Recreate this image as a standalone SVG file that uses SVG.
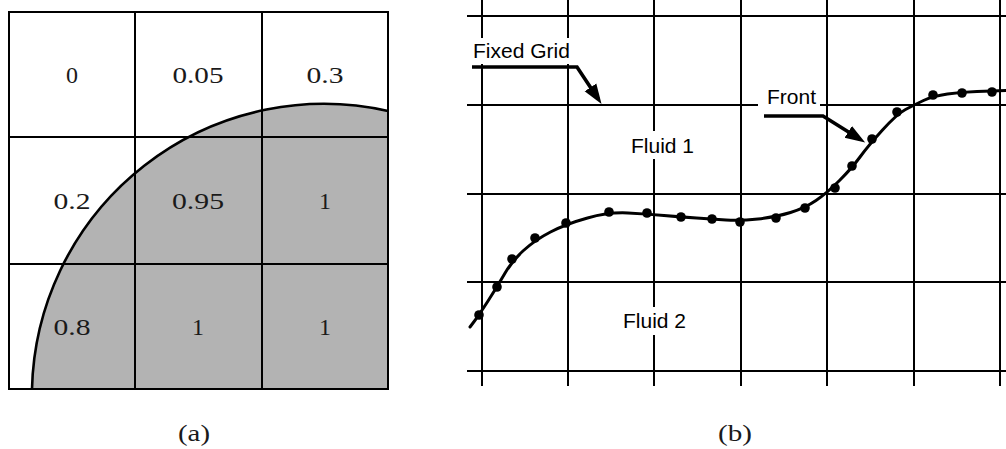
<svg xmlns="http://www.w3.org/2000/svg" width="1006" height="449" viewBox="0 0 1006 449">
<style>
.grid{stroke:#000;stroke-width:2;fill:none}
.cm{font-family:"Liberation Serif","DejaVu Serif",serif;font-size:24px;fill:#1a1a1a;text-anchor:middle}
.lbl{font-family:"Liberation Sans",Arial,sans-serif;font-size:21px;fill:#000}
.lead{stroke:#000;stroke-width:3.6;fill:none;stroke-linejoin:miter}
.dot{fill:#000}
.bg{fill:#fff}
</style>
<defs>
<marker id="ah" markerUnits="userSpaceOnUse" markerWidth="22" markerHeight="16" refX="14" refY="8" orient="auto">
<path d="M0,1 L20,8 L0,15 z" fill="#000"/>
</marker>
</defs>

<!-- Panel (a) -->
<g id="panel-a">
<rect x="9" y="12" width="379" height="377" fill="#fff"/>
<path d="M 32 389 A 292 292 0 0 1 388 111 L 388 389 Z" fill="#b3b3b3"/>
<g class="grid">
<line x1="135" y1="12" x2="135" y2="389"/>
<line x1="262" y1="12" x2="262" y2="389"/>
<line x1="9" y1="137" x2="388" y2="137"/>
<line x1="9" y1="264" x2="388" y2="264"/>
<rect x="9" y="12" width="379" height="377"/>
</g>
<path d="M 32 389 A 292 292 0 0 1 388 111" fill="none" stroke="#000" stroke-width="2.6"/>
<g id="cell-values">
<text class="cm" x="72" y="83">0</text>
<text class="cm" x="198" y="83" textLength="51" lengthAdjust="spacingAndGlyphs">0.05</text>
<text class="cm" x="325" y="83" textLength="37" lengthAdjust="spacingAndGlyphs">0.3</text>
<text class="cm" x="72" y="209" textLength="37" lengthAdjust="spacingAndGlyphs">0.2</text>
<text class="cm" x="198" y="209" textLength="52" lengthAdjust="spacingAndGlyphs">0.95</text>
<text class="cm" x="325" y="209">1</text>
<text class="cm" x="72" y="335" textLength="37" lengthAdjust="spacingAndGlyphs">0.8</text>
<text class="cm" x="198" y="335">1</text>
<text class="cm" x="325" y="335">1</text>
</g>
<text class="cm" x="194" y="441" textLength="32" lengthAdjust="spacingAndGlyphs">(a)</text>
</g>

<!-- Panel (b) -->
<g id="panel-b">
<g id="fixed-grid" class="grid">
<line x1="482" y1="0" x2="482" y2="386"/>
<line x1="568" y1="0" x2="568" y2="386"/>
<line x1="654" y1="0" x2="654" y2="386"/>
<line x1="741" y1="0" x2="741" y2="386"/>
<line x1="827" y1="0" x2="827" y2="386"/>
<line x1="914" y1="0" x2="914" y2="386"/>
<line x1="1000" y1="0" x2="1000" y2="386"/>
<line x1="467" y1="16" x2="1006" y2="16" stroke-width="1.8"/>
<line x1="467" y1="105" x2="1006" y2="105" stroke-width="1.8"/>
<line x1="467" y1="194" x2="1006" y2="194" stroke-width="1.8"/>
<line x1="467" y1="282" x2="1006" y2="282" stroke-width="1.8"/>
<line x1="467" y1="371" x2="1006" y2="371" stroke-width="1.8"/>
</g>

<g id="front">
<path d="M 470 327 L 474.5 321 Q 479 315 488 301 Q 497 287 504.5 274 Q 512 261 523.5 250.5 Q 535 240 550.5 232 Q 566 224 587.5 218 Q 609 212 628 213 Q 647 214 664 215.5 Q 681 217 696.5 218 Q 712 219 726 220 Q 740 221 758 219 Q 776 217 790.5 212.5 Q 805 208 816 200.5 Q 827 193 839.5 180.5 Q 852 168 860 157 Q 868 146 882.5 130 Q 897 114 905.5 109.5 Q 914 105 923.5 100.5 Q 933 96 947.5 94 Q 962 92 977 91.5 Q 992 91 1006 90.5" fill="none" stroke="#000" stroke-width="3" stroke-linecap="round"/>
<g class="dot">
<circle cx="479" cy="315" r="4.8"/>
<circle cx="497" cy="287" r="4.8"/>
<circle cx="512" cy="259" r="4.8"/>
<circle cx="535" cy="238" r="4.8"/>
<circle cx="566" cy="223" r="4.8"/>
<circle cx="609" cy="212" r="4.8"/>
<circle cx="647" cy="213" r="4.8"/>
<circle cx="681" cy="217" r="4.8"/>
<circle cx="712" cy="219" r="4.8"/>
<circle cx="740" cy="222" r="4.8"/>
<circle cx="776" cy="218" r="4.8"/>
<circle cx="805" cy="208" r="4.8"/>
<circle cx="835" cy="188" r="4.8"/>
<circle cx="852" cy="166" r="4.8"/>
<circle cx="872" cy="139" r="4.8"/>
<circle cx="897" cy="112" r="4.8"/>
<circle cx="933" cy="95" r="4.8"/>
<circle cx="962" cy="93" r="4.8"/>
<circle cx="992" cy="92" r="4.8"/>
</g>
</g>

<g id="label-fixed-grid">
<rect class="bg" x="470" y="38" width="110" height="26"/>
<text class="lbl" x="473" y="58">Fixed Grid</text>
</g>
<g id="label-front">
<rect class="bg" x="758" y="86" width="62" height="24"/>
<text class="lbl" x="767" y="104">Front</text>
</g>
<g id="label-fluid1">
<rect class="bg" x="628" y="131" width="70" height="28"/>
<text class="lbl" x="631" y="153">Fluid 1</text>
</g>
<g id="label-fluid2">
<rect class="bg" x="620" y="307" width="70" height="28"/>
<text class="lbl" x="623" y="328">Fluid 2</text>
</g>

<g id="connectors">
<path class="lead" d="M 472 67 L 577 67 L 598.2 99.1" marker-end="url(#ah)"/>
<path class="lead" d="M 764 116 L 823 116 L 860.1 139.3" marker-end="url(#ah)"/>
</g>

<text class="cm" x="735" y="441" textLength="34" lengthAdjust="spacingAndGlyphs">(b)</text>
</g>
</svg>
